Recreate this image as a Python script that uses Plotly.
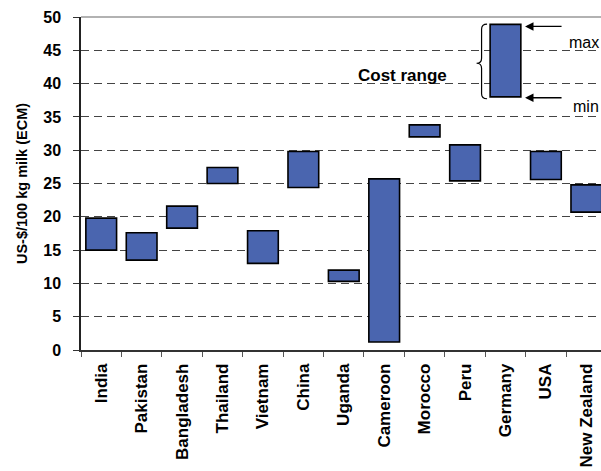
import plotly.graph_objects as go

countries = ["India", "Pakistan", "Bangladesh", "Thailand", "Vietnam", "China", "Uganda",
             "Cameroon", "Morocco", "Peru", "Germany", "USA", "New Zealand"]
cost_min = [15.0, 13.5, 18.3, 25.0, 13.0, 24.4, 10.3, 1.2, 32.0, 25.4, 38.0, 25.6, 20.7]
cost_max = [19.8, 17.6, 21.6, 27.4, 17.9, 29.8, 12.0, 25.7, 33.8, 30.8, 48.9, 29.8, 24.8]
y_ticks = [0, 5, 10, 15, 20, 25, 30, 35, 40, 45, 50]

FONT = "Arial, Liberation Sans, sans-serif"
BLUE = "#4A65AF"

L, T, B = 80.7, 17.3, 121
W, H = 601, 471
PW = W - L
PH = H - T - B
cat_w = 40.45
x_hi = -0.5 + PW / cat_w

fig = go.Figure()
fig.add_trace(go.Bar(
    x=countries,
    y=[mx - mn for mn, mx in zip(cost_min, cost_max)],
    base=cost_min,
    width=0.76,
    marker=dict(color=BLUE, line=dict(color="black", width=1.6)),
    hoverinfo="skip",
))


def px(xp):
    return (xp - L) / PW


def py(yp):
    return (H - B - yp) / PH


# top border line of plot area
fig.add_shape(type="line", xref="paper", yref="paper", x0=0, x1=1, y0=1, y1=1,
              line=dict(color="#999999", width=1.5))

# curly brace for the legend bar
xr, xm, xl = 487, 481.5, 476.5
yt, ymid, yb = 24.5, 63.5, 99
d = 5
path = (f"M {px(xr)},{py(yt)} Q {px(xm)},{py(yt)} {px(xm)},{py(yt + d)} "
        f"L {px(xm)},{py(ymid - d)} Q {px(xm)},{py(ymid)} {px(xl)},{py(ymid)} "
        f"Q {px(xm)},{py(ymid)} {px(xm)},{py(ymid + d)} "
        f"L {px(xm)},{py(yb - d)} Q {px(xm)},{py(yb)} {px(xr)},{py(yb)}")
fig.add_shape(type="path", xref="paper", yref="paper", path=path,
              line=dict(color="black", width=1.2))

annotations = [
    dict(x=px(402), y=py(64), xref="paper", yref="paper", text="<b>Cost range</b>",
         showarrow=False, font=dict(size=17, color="black", family=FONT)),
    dict(x=px(525), y=py(26.7), xref="paper", yref="paper", text="", showarrow=True,
         ax=38, ay=0, arrowhead=2, arrowsize=1.3, arrowwidth=1.3, arrowcolor="black"),
    dict(x=px(525), y=py(98), xref="paper", yref="paper", text="", showarrow=True,
         ax=38, ay=0, arrowhead=2, arrowsize=1.3, arrowwidth=1.3, arrowcolor="black"),
    dict(x=px(567), y=py(32.5), xref="paper", yref="paper", text="max", xanchor="left",
         showarrow=False, font=dict(size=16, color="black", family=FONT)),
    dict(x=px(570.5), y=py(96), xref="paper", yref="paper", text="min", xanchor="left",
         showarrow=False, font=dict(size=16, color="black", family=FONT)),
]

fig.update_layout(
    width=W, height=H,
    margin=dict(l=L, r=0, t=T, b=B, pad=0),
    paper_bgcolor="white", plot_bgcolor="white",
    showlegend=False,
    font=dict(family=FONT, color="black"),
    annotations=annotations,
    xaxis=dict(
        type="category",
        range=[-0.5, x_hi],
        tickson="boundaries",
        ticks="outside", ticklen=5, tickwidth=1.3, tickcolor="#555555",
        showline=True, linecolor="#333333", linewidth=1.5,
        showgrid=False,
        tickangle=-90,
        ticklabelstandoff=5,
        tickfont=dict(size=17, family=FONT, color="black", weight="bold"),
    ),
    yaxis=dict(
        range=[0, 50],
        tickvals=y_ticks,
        ticks="outside", ticklen=6, tickwidth=1.3, tickcolor="#333333",
        showline=True, linecolor="#222222", linewidth=1.5,
        showgrid=True, gridcolor="#444444", gridwidth=1, griddash="8px,5px",
        zeroline=False,
        ticklabelstandoff=9,
        tickfont=dict(size=16, family=FONT, color="black", weight="bold"),
        title=dict(text="<b>US-$/100 kg milk (ECM)</b>", standoff=12,
                   font=dict(size=14.5, family=FONT, color="black")),
    ),
)

fig.write_html(
    "out.html",
    config={"displayModeBar": False},
    post_script="document.body.style.margin='0';document.body.style.overflow='hidden';",
)
